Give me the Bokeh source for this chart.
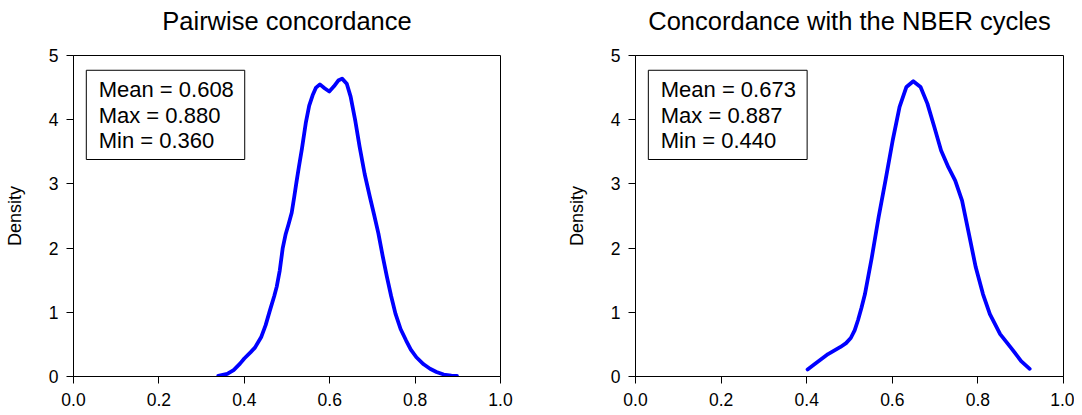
from bokeh.plotting import figure
from bokeh.layouts import row
from bokeh.models import Range1d, FixedTicker, NumeralTickFormatter, BoxAnnotation, Label, Title
from bokeh.embed import file_html
from bokeh.resources import INLINE

titles = ["Pairwise concordance", "Concordance with the NBER cycles"]

pairwise_x = [0.339, 0.36, 0.375, 0.39, 0.40, 0.415, 0.425, 0.44, 0.45, 0.46, 0.47, 0.476,
              0.483, 0.49, 0.497, 0.504, 0.511, 0.517, 0.522, 0.528, 0.535, 0.544, 0.552,
              0.56, 0.568, 0.577, 0.588, 0.599, 0.61, 0.62, 0.629, 0.64, 0.649, 0.66, 0.67,
              0.682, 0.694, 0.704, 0.714, 0.724, 0.734, 0.744, 0.754, 0.766, 0.779, 0.79,
              0.803, 0.82, 0.835, 0.85, 0.867, 0.885, 0.898]
pairwise_y = [0.01, 0.04, 0.10, 0.20, 0.28, 0.38, 0.45, 0.62, 0.80, 1.03, 1.25, 1.40,
              1.65, 2.00, 2.22, 2.38, 2.55, 2.80, 3.02, 3.27, 3.55, 3.95, 4.22,
              4.38, 4.50, 4.55, 4.49, 4.44, 4.52, 4.61, 4.64, 4.56, 4.36, 3.98, 3.58,
              3.15, 2.80, 2.52, 2.23, 1.88, 1.55, 1.25, 0.98, 0.74, 0.56, 0.42,
              0.30, 0.19, 0.12, 0.07, 0.03, 0.015, 0.01]

nber_x = [0.402, 0.422, 0.450, 0.479, 0.492, 0.503, 0.512, 0.520, 0.528, 0.536, 0.552,
          0.568, 0.584, 0.601, 0.617, 0.633, 0.649, 0.666, 0.682, 0.698, 0.714, 0.731,
          0.747, 0.763, 0.779, 0.795, 0.812, 0.828, 0.852, 0.877, 0.901, 0.921]
nber_y = [0.11, 0.21, 0.35, 0.46, 0.52, 0.60, 0.72, 0.88, 1.07, 1.28, 1.85,
          2.48, 3.05, 3.68, 4.20, 4.51, 4.60, 4.51, 4.25, 3.89, 3.52, 3.26,
          3.05, 2.74, 2.22, 1.70, 1.28, 0.97, 0.66, 0.45, 0.24, 0.12]

stats_pairwise = ["Mean = 0.608", "Max = 0.880", "Min = 0.360"]
stats_nber = ["Mean = 0.673", "Max = 0.887", "Min = 0.440"]

x_ticks = [0.0, 0.2, 0.4, 0.6, 0.8, 1.0]
y_ticks = [0, 1, 2, 3, 4, 5]

FONT = "Liberation Sans"


def make(title, xs, ys, stats, width, border_right):
    p = figure(width=width, height=410, x_range=Range1d(0, 1), y_range=Range1d(0, 5),
               output_backend="svg", toolbar_location=None,
               min_border_left=73, min_border_right=border_right,
               min_border_top=55, min_border_bottom=34)
    p.title.text = title
    p.title.text_font = FONT
    p.title.text_font_size = "25.5px"
    p.title.text_font_style = "normal"
    p.title.text_color = "black"
    p.title.align = "center"
    p.title.standoff = 6
    # empty spacer between the title and the frame
    p.add_layout(Title(text=" ", text_font_size="2px", standoff=14), "above")

    p.grid.visible = False
    p.outline_line_color = "black"
    p.outline_line_width = 1
    p.outline_line_alpha = 1

    p.xaxis.ticker = FixedTicker(ticks=x_ticks)
    p.xaxis.formatter = NumeralTickFormatter(format="0.0")
    p.yaxis.ticker = FixedTicker(ticks=y_ticks)
    for ax in (p.xaxis, p.yaxis):
        ax.major_tick_out = 7
        ax.major_tick_in = 0
        ax.minor_tick_out = 0
        ax.minor_tick_in = 0
        ax.axis_line_color = "black"
        ax.major_tick_line_color = "black"
        ax.major_label_text_font = FONT
        ax.major_label_text_font_size = "17.5px"
        ax.major_label_text_color = "black"
    p.xaxis.major_label_standoff = 9
    p.yaxis.major_label_standoff = 8
    p.yaxis.axis_label = "Density"
    p.yaxis.axis_label_text_font = FONT
    p.yaxis.axis_label_text_font_size = "18px"
    p.yaxis.axis_label_text_font_style = "normal"
    p.yaxis.axis_label_text_color = "black"
    p.yaxis.axis_label_standoff = 21

    p.line(xs, ys, line_color="#0000FF", line_width=3.8, line_join="round", line_cap="round")

    p.add_layout(BoxAnnotation(left=0.030, right=0.401, top=4.77, bottom=3.38,
                               fill_color=None, fill_alpha=0, line_color="black",
                               line_width=1, line_alpha=1))
    for i, s in enumerate(stats):
        p.add_layout(Label(x=0.059, y=4.47 - i * 0.397, text=s, text_font=FONT,
                           text_font_size="22px", text_color="black",
                           text_baseline="alphabetic", text_align="left"))
    return p


p1 = make(titles[0], pairwise_x, pairwise_y, stats_pairwise, 562, 62)
p2 = make(titles[1], nber_x, nber_y, stats_nber, 512, 11)

layout = row(p1, p2)
open("out.html", "w").write(file_html(layout, INLINE))
